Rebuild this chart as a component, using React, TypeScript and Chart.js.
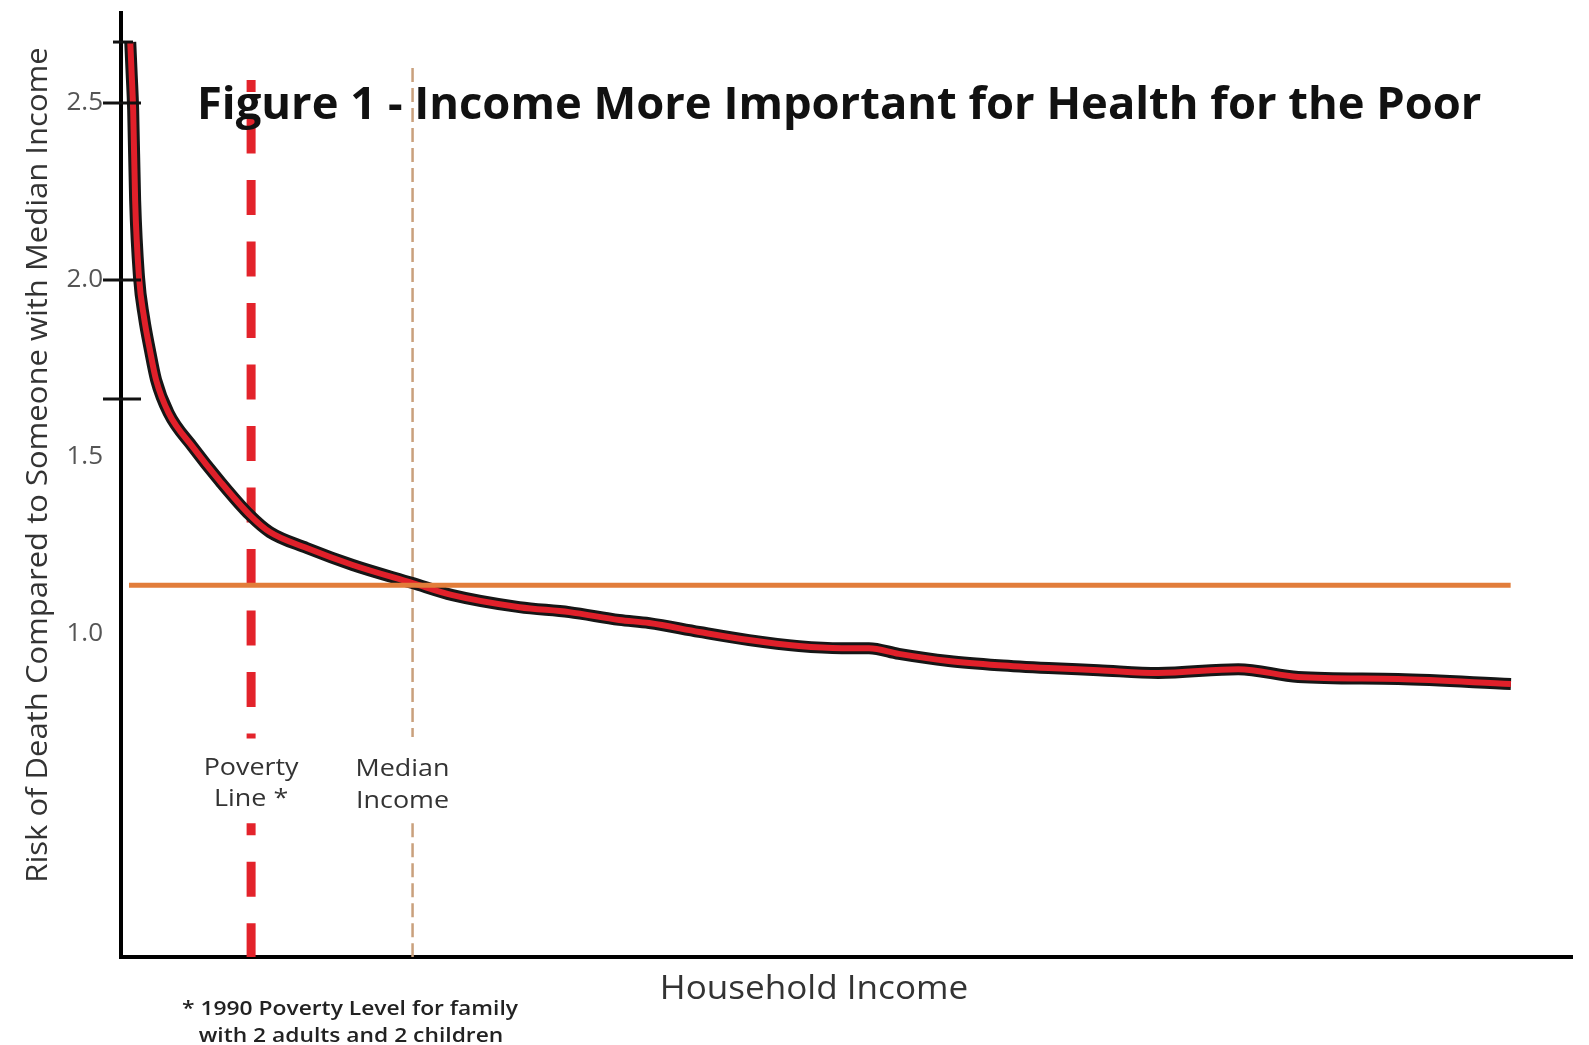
import React, { useEffect, useRef } from 'react';
import { Chart, registerables } from 'chart.js';

Chart.register(...registerables);

// Household income in $1000s (x) and relative risk of death (y)
const incomeK = [0.95, 1.1, 1.25, 1.45, 1.85, 2.36, 2.97, 3.6, 4.9, 7.38, 10.15, 13.23, 15.28, 19.07, 23.79, 29.94, 34.04, 40.91, 46.04, 51.16, 54.24, 59.37, 64.49, 69.62, 74.03, 76.8, 79.87, 85.0, 90.13, 95.25, 100.38, 106.53, 114.73, 120.89, 131.14, 142.73];
const relativeRisk = [2.672, 2.579, 2.48, 2.226, 2.008, 1.895, 1.802, 1.718, 1.624, 1.528, 1.432, 1.336, 1.288, 1.243, 1.195, 1.144, 1.11, 1.076, 1.062, 1.04, 1.031, 1.006, 0.983, 0.966, 0.96, 0.96, 0.944, 0.924, 0.912, 0.904, 0.898, 0.89, 0.901, 0.879, 0.873, 0.859];

const povertyLineK = 13.36;
const medianIncomeK = 29.94;
const medianRisk = 1.138;
const medianRiskSpanK = [0.82, 142.7];
const povertySpan = [2.565, 0.705, 0.466, 0.088];
const medianSpan = [2.599, 0.709, 0.466, 0.088];

const yTickLabels = [1.0, 1.5, 2.0, 2.5];
const yTickMarks = [2.672, 2.5, 2.0, 1.664];
const xMin = 0;
const xMax = 149;
const yMin = 0.088;
const yMax = 2.754;

const titleText = 'Figure 1 - Income More Important for Health for the Poor';
const yTitle = 'Risk of Death Compared to Someone with Median Income';
const xTitle = 'Household Income';
const povertyLabel = ['Poverty', 'Line *'];
const medianLabel = ['Median', 'Income'];
const footnote = ['* 1990 Poverty Level for family', 'with 2 adults and 2 children'];

const FONT = '"Open Sans", "Noto Sans", sans-serif';

function stretchedText(ctx: CanvasRenderingContext2D, text: string, x: number, y: number, sx: number) {
  ctx.save();
  ctx.translate(x, y);
  ctx.scale(sx, 1);
  ctx.fillText(text, 0, 0);
  ctx.restore();
}

const annotations = {
  id: 'annotations',
  afterDatasetsDraw(chart: any) {
    const { ctx, chartArea, scales } = chart;
    const x = scales.x;
    const y = scales.y;
    ctx.save();

    // crossing tick marks on the y axis
    ctx.strokeStyle = '#111';
    ctx.lineWidth = 3;
    yTickMarks.forEach((v, i) => {
      const py = y.getPixelForValue(v);
      const l = i === 0 ? 8 : 18;
      const r = i === 0 ? 12 : 20;
      ctx.beginPath();
      ctx.moveTo(chartArea.left - l, py);
      ctx.lineTo(chartArea.left + r, py);
      ctx.stroke();
    });

    // title
    ctx.fillStyle = '#111';
    ctx.font = `bold 44px ${FONT}`;
    ctx.textAlign = 'left';
    ctx.textBaseline = 'alphabetic';
    stretchedText(ctx, titleText, 197, 119, 1.03);

    // poverty / median labels
    ctx.fillStyle = '#333';
    ctx.font = `24px ${FONT}`;
    ctx.textAlign = 'center';
    ctx.textBaseline = 'middle';
    const pX = x.getPixelForValue(povertyLineK);
    stretchedText(ctx, povertyLabel[0], pX, 768, 1.12);
    stretchedText(ctx, povertyLabel[1], pX, 799, 1.12);
    const mX = x.getPixelForValue(medianIncomeK) - 10;
    stretchedText(ctx, medianLabel[0], mX, 769, 1.12);
    stretchedText(ctx, medianLabel[1], mX, 801, 1.12);

    // axis titles
    ctx.fillStyle = '#333';
    ctx.font = `30px ${FONT}`;
    ctx.save();
    ctx.translate(38, 465);
    ctx.rotate(-Math.PI / 2);
    ctx.textAlign = 'center';
    ctx.textBaseline = 'middle';
    stretchedText(ctx, yTitle, 0, 0, 1.034);
    ctx.restore();

    ctx.font = `33px ${FONT}`;
    ctx.textAlign = 'center';
    ctx.textBaseline = 'alphabetic';
    stretchedText(ctx, xTitle, 814, 999, 1.063);

    // footnote
    ctx.fillStyle = '#222';
    ctx.font = `600 19px ${FONT}`;
    stretchedText(ctx, footnote[0], 350, 1015, 1.2);
    stretchedText(ctx, footnote[1], 351, 1042, 1.2);

    ctx.restore();
  },
};

export default function App() {
  const canvasRef = useRef<HTMLCanvasElement | null>(null);

  useEffect(() => {
    document.body.style.margin = '0';
    const canvas = canvasRef.current;
    if (!canvas) return;

    const curve = incomeK.map((v, i) => ({ x: v, y: relativeRisk[i] }));
    const povertyData = [
      { x: povertyLineK, y: povertySpan[0] },
      { x: povertyLineK, y: povertySpan[1] },
      { x: povertyLineK, y: null },
      { x: povertyLineK, y: povertySpan[2] },
      { x: povertyLineK, y: povertySpan[3] },
    ];
    const medianData = [
      { x: medianIncomeK, y: medianSpan[0] },
      { x: medianIncomeK, y: medianSpan[1] },
      { x: medianIncomeK, y: null },
      { x: medianIncomeK, y: medianSpan[2] },
      { x: medianIncomeK, y: medianSpan[3] },
    ];
    const orangeData = medianRiskSpanK.map((v) => ({ x: v, y: medianRisk }));

    const chart = new Chart(canvas, {
      type: 'line',
      data: {
        datasets: [
          {
            label: 'median risk',
            data: orangeData,
            borderColor: '#e27d3a',
            borderWidth: 5,
            pointRadius: 0,
            order: 0,
          },
          {
            label: 'risk',
            data: curve,
            borderColor: '#e0202a',
            borderWidth: 6,
            pointRadius: 0,
            cubicInterpolationMode: 'monotone',
            order: 1,
          },
          {
            label: 'risk outline',
            data: curve,
            borderColor: '#161616',
            borderWidth: 12,
            pointRadius: 0,
            cubicInterpolationMode: 'monotone',
            order: 2,
          },
          {
            label: 'poverty line',
            data: povertyData as any,
            borderColor: '#e3232b',
            borderWidth: 9,
            borderDash: [35, 26.5],
            borderDashOffset: 23,
            borderCapStyle: 'butt',
            pointRadius: 0,
            spanGaps: false,
            order: 3,
          },
          {
            label: 'median income',
            data: medianData as any,
            borderColor: '#c9a07c',
            borderWidth: 2.5,
            borderDash: [14, 6],
            pointRadius: 0,
            spanGaps: false,
            order: 4,
          },
        ],
      },
      options: {
        animation: false,
        responsive: true,
        maintainAspectRatio: false,
        layout: { padding: { top: 13, right: 17, left: 0, bottom: 0 } },
        plugins: {
          legend: { display: false },
          tooltip: { enabled: false },
          title: { display: false },
        },
        scales: {
          x: {
            type: 'linear',
            min: xMin,
            max: xMax,
            ticks: { display: false },
            grid: { display: false, drawTicks: false },
            border: { display: true, color: '#000', width: 4 },
            afterFit: (s: any) => {
              s.height = 88;
              s.paddingLeft = 0;
              s.paddingRight = 0;
            },
          },
          y: {
            type: 'linear',
            min: yMin,
            max: yMax,
            afterBuildTicks: (s: any) => {
              s.ticks = yTickLabels.map((v) => ({ value: v }));
            },
            ticks: {
              callback: (v: any) => Number(v).toFixed(1),
              font: { family: FONT, size: 26 },
              color: '#555',
              padding: 18,
            },
            grid: { display: false, drawTicks: false },
            border: { display: true, color: '#000', width: 4 },
            afterFit: (s: any) => {
              s.width = 121;
              s.paddingTop = 0;
              s.paddingBottom = 0;
            },
          },
        },
      },
      plugins: [annotations],
    });

    return () => chart.destroy();
  }, []);

  return (
    <div style={{ position: 'relative', width: 1589, height: 1045, background: '#fff' }}>
      <canvas ref={canvasRef} />
    </div>
  );
}
